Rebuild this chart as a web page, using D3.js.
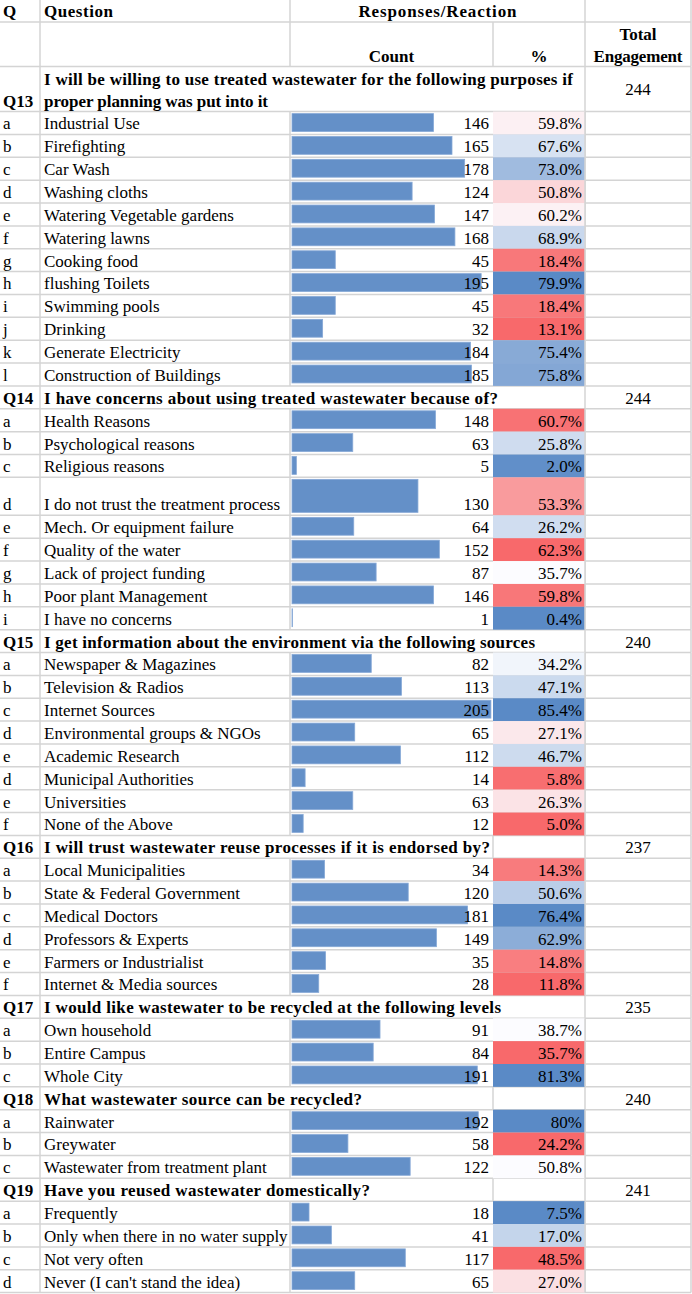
<!DOCTYPE html>
<html><head><meta charset="utf-8">
<script src="https://cdn.jsdelivr.net/npm/d3@7"></script>
<style>
html,body{margin:0;padding:0;background:#fff;}
svg{display:block;}
text{font-family:"Liberation Serif","Times New Roman",serif;fill:#000;}
</style></head>
<body><div id="chart"></div>
<script>
// ---------------- DATA ----------------
const sectionIds = ["Q13","Q14","Q15","Q16","Q17","Q18","Q19"];
const sectionQuestions = [
  ["I will be willing to use treated wastewater for the following purposes if","proper planning was put into it"],
  ["I have concerns about using treated wastewater because of?"],
  ["I get information about the environment via the following sources"],
  ["I will trust wastewater reuse processes if it is endorsed by?"],
  ["I would like wastewater to be recycled at the following levels"],
  ["What wastewater source can be recycled?"],
  ["Have you reused wastewater domestically?"]
];
const sectionTotals = [244,244,240,237,235,240,241];
// direction of the red-white-blue colour scale (true = high values red)
const sectionReversed = [false,true,false,false,false,false,true];

const q13Letters = ["a","b","c","d","e","f","g","h","i","j","k","l"];
const q13Items = ["Industrial Use","Firefighting","Car Wash","Washing cloths","Watering Vegetable gardens","Watering lawns","Cooking food","flushing Toilets","Swimming pools","Drinking","Generate Electricity","Construction of Buildings"];
const q13Counts = [146,165,178,124,147,168,45,195,45,32,184,185];
const q13Pct = ["59.8%","67.6%","73.0%","50.8%","60.2%","68.9%","18.4%","79.9%","18.4%","13.1%","75.4%","75.8%"];

const q14Letters = ["a","b","c","d","e","f","g","h","i"];
const q14Items = ["Health Reasons","Psychological reasons","Religious reasons","I do not trust the treatment process","Mech. Or equipment failure","Quality of the water","Lack of project funding","Poor plant Management","I have no concerns"];
const q14Counts = [148,63,5,130,64,152,87,146,1];
const q14Pct = ["60.7%","25.8%","2.0%","53.3%","26.2%","62.3%","35.7%","59.8%","0.4%"];

const q15Letters = ["a","b","c","d","e","d","e","f"];
const q15Items = ["Newspaper & Magazines","Television & Radios","Internet Sources","Environmental groups & NGOs","Academic Research","Municipal Authorities","Universities","None of the Above"];
const q15Counts = [82,113,205,65,112,14,63,12];
const q15Pct = ["34.2%","47.1%","85.4%","27.1%","46.7%","5.8%","26.3%","5.0%"];

const q16Letters = ["a","b","c","d","e","f"];
const q16Items = ["Local Municipalities","State & Federal Government","Medical Doctors","Professors & Experts","Farmers or Industrialist","Internet & Media sources"];
const q16Counts = [34,120,181,149,35,28];
const q16Pct = ["14.3%","50.6%","76.4%","62.9%","14.8%","11.8%"];

const q17Letters = ["a","b","c"];
const q17Items = ["Own household","Entire Campus","Whole City"];
const q17Counts = [91,84,191];
const q17Pct = ["38.7%","35.7%","81.3%"];

const q18Letters = ["a","b","c"];
const q18Items = ["Rainwater","Greywater","Wastewater from treatment plant"];
const q18Counts = [192,58,122];
const q18Pct = ["80%","24.2%","50.8%"];

const q19Letters = ["a","b","c","d"];
const q19Items = ["Frequently","Only when there in no water supply","Not very often","Never (I can't stand the idea)"];
const q19Counts = [18,41,117,65];
const q19Pct = ["7.5%","17.0%","48.5%","27.0%"];

const headerQ = "Q", headerQuestion = "Question", headerResponses = "Responses/Reaction";
const headerCount = "Count", headerPct = "%", headerTotal = ["Total","Engagement"];

const sectionLetters = [q13Letters,q14Letters,q15Letters,q16Letters,q17Letters,q18Letters,q19Letters];
const sectionItems = [q13Items,q14Items,q15Items,q16Items,q17Items,q18Items,q19Items];
const sectionCounts = [q13Counts,q14Counts,q15Counts,q16Counts,q17Counts,q18Counts,q19Counts];
const sectionPct = [q13Pct,q14Pct,q15Pct,q16Pct,q17Pct,q18Pct,q19Pct];

// ---------------- LAYOUT ----------------
const W = 692, H = 1294;
const X = {q:0, question:40, count:290, pct:493, total:585, end:691};
const ROW = 22.86;
const FS = 17;
const gridColor = "#d4d4d4";
const barFill = "#6490c8", barStroke = "#86a8d6";
const cLow = "#f8696b", cMid = "#fcfcff", cHigh = "#5a8ac6";
const headerTextWidths = {Q13:[529,224], Q14:[454], Q15:[491], Q16:[446], Q17:[457], Q18:[318], Q19:[326]};

const svg = d3.select("#chart").append("svg").attr("width", W).attr("height", H);
svg.append("rect").attr("width", W).attr("height", H).attr("fill", "#fff");
const gFill = svg.append("g"), gGrid = svg.append("g"), gBars = svg.append("g"), gText = svg.append("g");

const allCounts = sectionCounts.flat();
const barScale = d3.scaleLinear().domain([0, d3.max(allCounts)]).range([0, 199.4]);

// build rows
const rows = [];
let y = 0;
rows.push({type:"h1", y0:y, y1:y+22}); y += 22;
rows.push({type:"h2", y0:y, y1:y+44.5}); y += 44.5;
sectionIds.forEach((id, si) => {
  const hh = sectionQuestions[si].length > 1 ? 45.1 : ROW;
  rows.push({type:"sec", si, y0:y, y1:y+hh}); y += hh;
  const vals = sectionPct[si].map(s => parseFloat(s));
  const ext = d3.extent(vals), med = d3.median(vals);
  const color = d3.scaleLinear().domain([ext[0], med, ext[1]])
    .range(sectionReversed[si] ? [cHigh, cMid, cLow] : [cLow, cMid, cHigh]).interpolate(d3.interpolateRgb);
  sectionItems[si].forEach((item, i) => {
    const tall = (id === "Q14" && i === 3);
    const rh = tall ? 38 : ROW;
    rows.push({type:"item", si, i, y0:y, y1:y+rh, fill: color(vals[i])});
    y += rh;
  });
});

function hline(x0, x1, yy){ gGrid.append("line").attr("x1",x0).attr("x2",x1).attr("y1",yy).attr("y2",yy).attr("stroke",gridColor).attr("stroke-width",1.5); }
function vline(xx, y0, y1){ gGrid.append("line").attr("x1",xx).attr("x2",xx).attr("y1",y0).attr("y2",y1).attr("stroke",gridColor).attr("stroke-width",1.5); }
function txt(x, yy, s, opt={}){
  const t = gText.append("text").attr("x",x).attr("y",yy).text(s)
    .attr("font-size", FS).attr("text-anchor", opt.anchor || "start")
    .attr("font-weight", opt.bold ? "bold" : "normal");
  if (opt.len) t.attr("textLength", opt.len).attr("lengthAdjust","spacing");
  return t;
}

rows.forEach(r => {
  hline(0, X.end, r.y1);
  vline(X.question, r.y0, r.y1);
  vline(X.total, r.y0, r.y1);
  vline(X.end, r.y0, r.y1);
  const base = r.y1 - 5;
  if (r.type === "h1") {
    vline(X.count, r.y0, r.y1);
    txt(3, base, headerQ, {bold:true});
    txt(44, base, headerQuestion, {bold:true, len:69});
    txt((X.count + X.total)/2, base, headerResponses, {bold:true, anchor:"middle", len:158});
  } else if (r.type === "h2") {
    vline(X.count, r.y0, r.y1); vline(X.pct, r.y0, r.y1);
    txt((X.count + X.pct)/2, base, headerCount, {bold:true, anchor:"middle"});
    txt((X.pct + X.total)/2, base, headerPct, {bold:true, anchor:"middle"});
    txt((X.total + X.end)/2, base - 22, headerTotal[0], {bold:true, anchor:"middle"});
    txt((X.total + X.end)/2, base, headerTotal[1], {bold:true, anchor:"middle", len:89});
  } else if (r.type === "sec") {
    const id = sectionIds[r.si];
    const lines = sectionQuestions[r.si];
    const widths = headerTextWidths[id];
    txt(3, base, id, {bold:true});
    lines.forEach((ln, k) => {
      txt(44, base - (lines.length - 1 - k) * 22, ln, {bold:true, len:widths[k]});
    });
    const endX = 44 + d3.max(widths);
    if (endX < X.count) vline(X.count, r.y0, r.y1);
    if (endX < X.pct) vline(X.pct, r.y0, r.y1);
    const midY = (r.y0 + r.y1) / 2 + 6;
    txt((X.total + X.end)/2, lines.length > 1 ? midY : base, sectionTotals[r.si], {anchor:"middle"});
  } else {
    vline(X.count, r.y0, r.y1);
    const si = r.si, i = r.i;
    gFill.append("rect").attr("x", X.pct).attr("y", r.y0).attr("width", X.total - X.pct).attr("height", r.y1 - r.y0)
      .attr("fill", r.fill);
    gBars.append("rect").attr("x", X.count + 2).attr("y", r.y0 + 2)
      .attr("width", Math.max(0.5, barScale(sectionCounts[si][i]) - 0.5)).attr("height", r.y1 - r.y0 - 5)
      .attr("fill", barFill).attr("stroke", barStroke).attr("stroke-width", 0.8);
    txt(3, base, sectionLetters[si][i]);
    txt(44, base, sectionItems[si][i]);
    txt(489, base, sectionCounts[si][i], {anchor:"end"});
    txt(582, base, sectionPct[si][i], {anchor:"end"});
  }
});
// fills sit above the grid in the % column
gFill.raise(); gBars.raise(); gText.raise();
// keep right border of % column visible
rows.filter(r => r.type === "item").forEach(r => {
  gText.insert("line", ":first-child").attr("x1", X.total).attr("x2", X.total).attr("y1", r.y0).attr("y2", r.y1)
    .attr("stroke", gridColor).attr("stroke-width", 1.5);
});
</script></body></html>
